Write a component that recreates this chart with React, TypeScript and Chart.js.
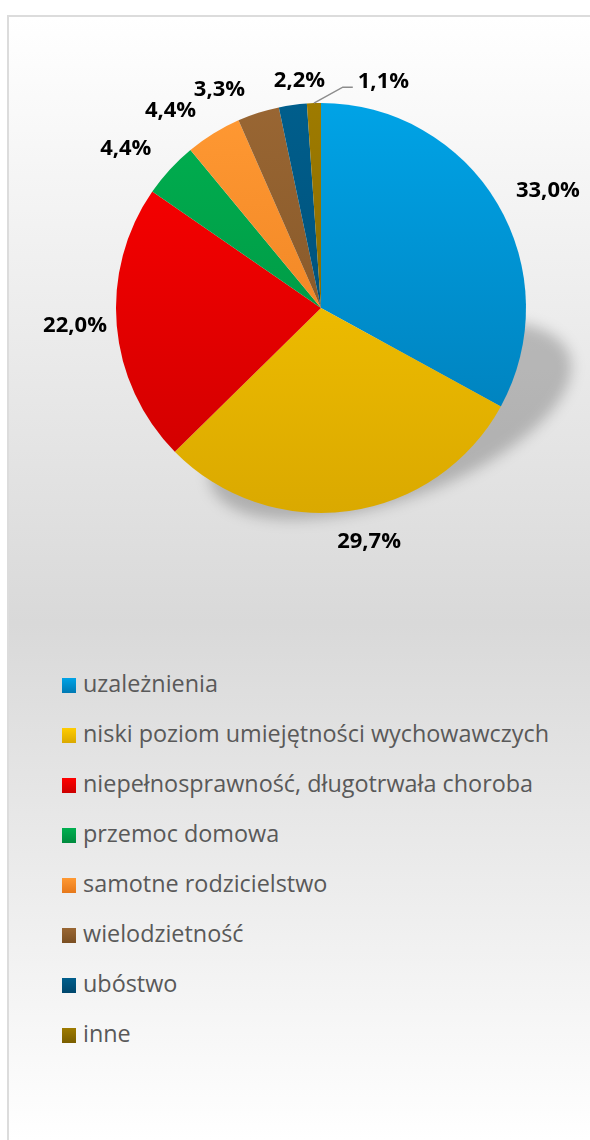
import React, { useEffect, useRef } from "react";
import { Chart, registerables } from "chart.js";

Chart.register(...registerables);

const CATEGORIES = [
  "uzależnienia",
  "niski poziom umiejętności wychowawczych",
  "niepełnosprawność, długotrwała choroba",
  "przemoc domowa",
  "samotne rodzicielstwo",
  "wielodzietność",
  "ubóstwo",
  "inne",
];
const VALUES = [33.0, 29.7, 22.0, 4.4, 4.4, 3.3, 2.2, 1.1];

const COLORS_TOP = ["#00A3E6", "#FFCC00", "#FF0000", "#00B050", "#FF9933", "#996633", "#005E8C", "#9E7B00"];
const COLORS_BOTTOM = ["#0079B3", "#DAA900", "#CC0000", "#008A3E", "#E6781A", "#7A4F22", "#00476C", "#7A5E00"];

// label placement tweaks (relative to the automatic outside position)
const LABEL_NUDGE: [number, number][] = [
  [7.6, 0],
  [13, 4],
  [8, -3],
  [-12, -4],
  [-20, -2],
  [-25.5, 1],
  [12.7, 1],
  [71, 4],
];
const LABEL_LEADER = [false, false, false, false, false, false, false, true];

const fmt = (v: number) => v.toFixed(1).replace(".", ",") + "%";

const shadowPlugin = {
  id: "pieShadow",
  beforeDatasetsDraw(chart: any) {
    const arc = chart.getDatasetMeta(0).data[0];
    if (!arc) return;
    const { x, y, outerRadius: r } = arc;
    const ctx = chart.ctx;
    ctx.save();
    ctx.filter = "blur(7px)";
    ctx.fillStyle = "rgba(0,0,0,0.22)";
    ctx.beginPath();
    ctx.ellipse(x + 0.337 * r, y + 0.546 * r, 0.93 * r, 0.39 * r, (-20 * Math.PI) / 180, 0, Math.PI * 2);
    ctx.fill();
    ctx.restore();
  },
};

const labelPlugin = {
  id: "outsideLabels",
  afterDatasetsDraw(chart: any) {
    const ctx = chart.ctx;
    const meta = chart.getDatasetMeta(0);
    const data = chart.data.datasets[0].data as number[];
    ctx.save();
    ctx.font = "bold 22px 'Open Sans'";
    ctx.fillStyle = "#000000";
    ctx.textAlign = "center";
    ctx.textBaseline = "middle";
    const h = 16;
    const gap = 18;
    meta.data.forEach((arc: any, i: number) => {
      const m = (arc.startAngle + arc.endAngle) / 2;
      const c = Math.cos(m);
      const s = Math.sin(m);
      const text = fmt(data[i]);
      const w = ctx.measureText(text).width;
      const R = arc.outerRadius + gap;
      const tx = arc.x + R * c + (w / 2) * c + LABEL_NUDGE[i][0];
      const ty = arc.y + R * s + (h / 2) * s + LABEL_NUDGE[i][1];
      if (LABEL_LEADER[i]) {
        const sx = arc.x + arc.outerRadius * c;
        const sy = arc.y + arc.outerRadius * s;
        const ex = tx - w / 2 - 5;
        const ey = ty + 6;
        ctx.save();
        ctx.strokeStyle = "#8c8c8c";
        ctx.lineWidth = 1.5;
        ctx.beginPath();
        ctx.moveTo(sx, sy);
        ctx.lineTo(ex - 10, ey);
        ctx.lineTo(ex, ey);
        ctx.stroke();
        ctx.restore();
      }
      ctx.fillText(text, tx, ty + 1);
    });
    ctx.restore();
  },
};

export default function App() {
  const ref = useRef<HTMLCanvasElement | null>(null);

  useEffect(() => {
    if (!ref.current) return;
    const chart = new Chart(ref.current, {
      type: "pie",
      data: {
        labels: CATEGORIES,
        datasets: [
          {
            data: VALUES,
            borderWidth: 0,
            backgroundColor: (ctx: any) => {
              const area = ctx.chart.chartArea;
              const i = ctx.dataIndex;
              if (!area) return COLORS_TOP[i];
              const g = ctx.chart.ctx.createLinearGradient(0, area.top, 0, area.bottom);
              g.addColorStop(0, COLORS_TOP[i]);
              g.addColorStop(1, COLORS_BOTTOM[i]);
              return g;
            },
          },
        ],
      },
      options: {
        responsive: false,
        animation: false,
        layout: { padding: { left: 116, top: 103, right: 64, bottom: 127 } },
        plugins: {
          legend: { display: false },
          tooltip: { enabled: false },
        },
      },
      plugins: [shadowPlugin, labelPlugin],
    });
    return () => chart.destroy();
  }, []);

  return (
    <>
      <div
        style={{
          position: "absolute",
          left: 7,
          top: 15,
          width: 583,
          height: 1125,
          boxSizing: "border-box",
          borderTop: "2px solid #dcdcdc",
          borderLeft: "2px solid #dcdcdc",
          background: "linear-gradient(to bottom, #ffffff 0%, #d9d9d9 54%, #ffffff 100%)",
        }}
      />
      <canvas
        ref={ref}
        width={590}
        height={640}
        style={{ position: "absolute", left: 0, top: 0, width: 590, height: 640 }}
      />
      <div style={{ position: "absolute", left: 62, top: 660 }}>
        {CATEGORIES.map((name, i) => (
          <div key={name} style={{ display: "flex", alignItems: "center", height: 50 }}>
            <span
              style={{
                display: "inline-block",
                width: 14,
                height: 15,
                flexShrink: 0,
                background: `linear-gradient(to bottom, ${COLORS_TOP[i]}, ${COLORS_BOTTOM[i]})`,
              }}
            />
            <span
              style={{
                marginLeft: 7,
                fontFamily: "'Open Sans'",
                fontSize: 23.4,
                color: "#595959",
                whiteSpace: "nowrap",
                position: "relative",
                top: -2,
              }}
            >
              {name}
            </span>
          </div>
        ))}
      </div>
    </>
  );
}
